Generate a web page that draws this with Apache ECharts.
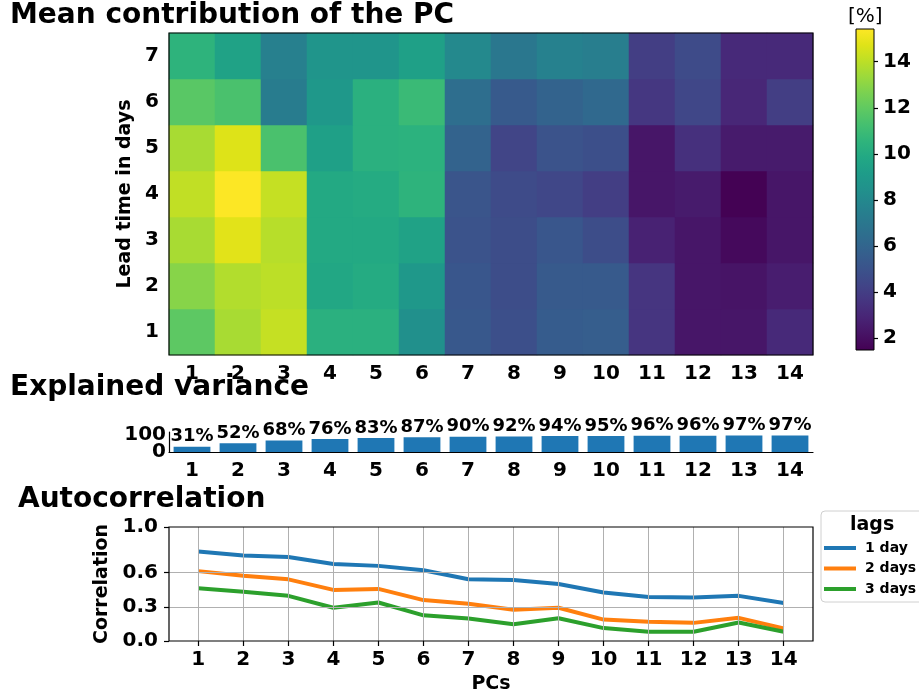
<!DOCTYPE html>
<html><head><meta charset="utf-8">
<script src="https://cdn.jsdelivr.net/npm/echarts@6/dist/echarts.min.js"></script>
<style>html,body{margin:0;padding:0;background:#fff}#c{width:919px;height:695px}</style>
</head><body><div id="c"></div>
<script>
// ---- data ----
const pcs = ['1','2','3','4','5','6','7','8','9','10','11','12','13','14'];
const pcNums = [1,2,3,4,5,6,7,8,9,10,11,12,13,14];
const leadDays = ['1','2','3','4','5','6','7'];
// mean contribution [%] per PC, one array per lead time (days)
const lead1 = [11.9,13.6,14.2,10.3,10.3,8.4,5.3,4.8,5.5,5.6,3.6,2.3,2.3,3.1];
const lead2 = [12.9,13.8,14.0,9.8,10.0,8.9,5.2,4.7,5.4,5.4,3.6,2.3,2.2,2.6];
const lead3 = [13.6,14.8,13.9,9.9,9.9,9.5,5.0,4.7,5.2,4.7,2.8,2.3,1.8,2.3];
const lead4 = [14.1,15.4,14.2,9.9,10.0,10.5,5.1,4.6,4.4,4.0,2.3,2.5,1.5,2.3];
const lead5 = [13.6,14.7,11.4,9.4,10.3,10.4,5.9,4.3,5.0,4.8,2.3,3.4,2.5,2.5];
const lead6 = [11.8,11.4,7.3,8.9,10.3,10.9,6.5,5.4,5.9,6.2,3.7,4.4,3.0,4.0];
const lead7 = [10.5,9.5,7.5,8.7,8.7,9.4,8.0,7.0,7.6,7.4,4.0,4.6,3.1,3.1];
const explainedVar = [31,52,68,76,83,87,90,92,94,95,96,96,97,97];
const lag1 = [0.786,0.751,0.737,0.676,0.659,0.621,0.541,0.535,0.500,0.425,0.385,0.381,0.396,0.333];
const lag2 = [0.613,0.572,0.541,0.448,0.457,0.359,0.327,0.275,0.292,0.188,0.168,0.159,0.203,0.110];
const lag3 = [0.463,0.433,0.396,0.292,0.338,0.225,0.197,0.147,0.200,0.113,0.081,0.081,0.162,0.081];
const corrTicks = [0, 0.3, 0.6, 1.0];
const varTicks = [0, 100];
const cbTicks = [2,4,6,8,10,12,14];
const cbMin = 1.48, cbMax = 15.42;

const viridis = ['#440154','#471365','#482475','#463480','#414487','#3b528b','#355f8d','#2f6c8e','#2a788e','#25848e','#21918c','#1e9c89','#22a884','#2fb47c','#44bf70','#5ec962','#7ad151','#9bd93c','#bddf26','#dfe318','#fde725'];

const leads = [lead1,lead2,lead3,lead4,lead5,lead6,lead7];
const heatData = [];
leads.forEach((row, r) => row.forEach((v, c) => heatData.push([c, r, v])));

const F = 'DejaVu Sans';
const tickFont = {fontFamily:F, fontWeight:'bold', fontSize:20, color:'#000'};
const barLabelFont = {fontFamily:F, fontWeight:'bold', fontSize:18, color:'#000'};
const titleFont = (s) => ({fontFamily:F, fontWeight:'bold', fontSize:s, color:'#000'});
const blackTick = {lineStyle:{color:'#000', width:1.2}};
const VAR_MAX = 118;

// one y axis per explained-variance tick label so neither gets hidden by overlap logic
const varAxes = varTicks.map((t, k) => ({
  gridIndex:1, type:'value', min:0, max:VAR_MAX, position:'left', offset:0,
  axisLine:{show:k===0, lineStyle:{color:'#000', width:1.2}}, axisTick:{show:false},
  axisLabel:{...tickFont, margin:3, customValues:[t], showMinLabel:true, showMaxLabel:true},
  splitLine:{show:false}
}));

const chart = echarts.init(document.getElementById('c'), null, {renderer:'canvas'});
chart.setOption({
  animation:false,
  backgroundColor:'#fff',
  title:[
    {text:'Mean contribution of the PC', left:10, top:2, padding:0, textStyle:titleFont(28)},
    {text:'Explained variance', left:10, top:374, padding:0, textStyle:titleFont(28)},
    {text:'Autocorrelation', left:18, top:486, padding:0, textStyle:titleFont(28)},
    {text:'lags', left:850, top:516, padding:0, textStyle:titleFont(19), z:20},
    {text:'[%]', left:848, top:7, padding:0, textStyle:{fontFamily:F, fontWeight:'normal', fontSize:20, color:'#000'}}
  ],
  legend:{
    data:['1 day','2 days','3 days'], orient:'vertical', left:821, top:511,
    icon:'rect', itemWidth:32, itemHeight:4, itemGap:6.5, padding:[30,10,6,3],
    borderColor:'#d0d0d0', borderWidth:1, borderRadius:4, backgroundColor:'#fff',
    textStyle:{fontFamily:F, fontWeight:'bold', fontSize:14, color:'#000', padding:[0,0,0,4]}
  },
  visualMap:{show:false, type:'continuous', min:cbMin, max:cbMax, seriesIndex:0, dimension:2, inRange:{color:viridis}},
  grid:[
    {left:169, top:33, width:644, height:322, show:true, borderColor:'#000', borderWidth:1.2, backgroundColor:'transparent', z:10},
    {left:169, top:432, width:644, height:20},
    {left:169, top:527, width:644, height:116, show:true, borderColor:'#000', borderWidth:1.2, backgroundColor:'transparent', z:10},
    {left:856, top:29, width:18, height:321, show:true, borderColor:'#000', borderWidth:1, backgroundColor:'transparent', z:10}
  ],
  xAxis:[
    {gridIndex:0, type:'category', data:pcs, axisLine:{show:false}, axisTick:{alignWithLabel:true, length:5, ...blackTick}, axisLabel:{...tickFont, margin:9}, splitLine:{show:false}},
    {gridIndex:1, type:'category', data:pcs, axisLine:{show:true, lineStyle:{color:'#000', width:1.2}}, axisTick:{alignWithLabel:true, length:5, ...blackTick}, axisLabel:{...tickFont, margin:9}, splitLine:{show:false}},
    {gridIndex:2, type:'value', min:0.35, max:14.65, axisLine:{show:false}, axisTick:{show:true, customValues:pcNums, length:5, ...blackTick}, axisLabel:{...tickFont, margin:9, customValues:pcNums}, splitLine:{show:false},
      name:'PCs', nameLocation:'middle', nameGap:34, nameTextStyle:titleFont(19)},
    {gridIndex:3, type:'category', data:['cb'], show:false}
  ],
  yAxis:[
    {gridIndex:0, type:'category', data:leadDays, axisLine:{show:false}, axisTick:{alignWithLabel:true, length:5, ...blackTick}, axisLabel:{...tickFont, margin:10}, splitLine:{show:false},
      name:'Lead time in days', nameLocation:'middle', nameGap:29, nameTextStyle:titleFont(19)},
    varAxes[0],
    {gridIndex:2, type:'value', min:0, max:1, axisLine:{show:false}, axisTick:{show:true, customValues:corrTicks, length:5, ...blackTick}, axisLabel:{...tickFont, margin:11, customValues:corrTicks, showMinLabel:true, showMaxLabel:true, formatter:(v)=>Number(v).toFixed(1)}, splitLine:{show:false},
      name:'Correlation', nameLocation:'middle', nameGap:50, nameTextStyle:titleFont(19)},
    {gridIndex:3, type:'value', min:cbMin, max:cbMax, position:'right', axisLine:{show:false}, axisTick:{show:true, customValues:cbTicks, length:4, ...blackTick}, axisLabel:{...tickFont, margin:9, customValues:cbTicks}, splitLine:{show:false}},
    varAxes[1]
  ],
  series:[
    {type:'heatmap', xAxisIndex:0, yAxisIndex:0, data:heatData, itemStyle:{borderWidth:0}, emphasis:{disabled:true}},
    {type:'bar', xAxisIndex:1, yAxisIndex:1, data:explainedVar, barWidth:'80%', itemStyle:{color:'#1f77b4'},
      label:{show:true, position:'top', distance:1, formatter:'{c}%', ...barLabelFont}},
    {type:'line', xAxisIndex:2, yAxisIndex:2, data:[], z:1, silent:true,
      markLine:{silent:true, symbol:['none','none'], label:{show:false}, animation:false,
        lineStyle:{color:'#b0b0b0', width:1, type:'solid'},
        data:[...pcNums.map(v=>({xAxis:v})), ...corrTicks.filter(v=>v>0 && v<1).map(v=>({yAxis:v}))]}},
    {type:'line', name:'1 day', xAxisIndex:2, yAxisIndex:2, data:lag1.map((v,i)=>[pcNums[i],v]), showSymbol:false, z:3, lineStyle:{width:4, color:'#1f77b4'}, itemStyle:{color:'#1f77b4'}},
    {type:'line', name:'2 days', xAxisIndex:2, yAxisIndex:2, data:lag2.map((v,i)=>[pcNums[i],v]), showSymbol:false, z:3, lineStyle:{width:4, color:'#ff7f0e'}, itemStyle:{color:'#ff7f0e'}},
    {type:'line', name:'3 days', xAxisIndex:2, yAxisIndex:2, data:lag3.map((v,i)=>[pcNums[i],v]), showSymbol:false, z:3, lineStyle:{width:4, color:'#2ca02c'}, itemStyle:{color:'#2ca02c'}},
    {type:'bar', xAxisIndex:3, yAxisIndex:3, stack:'cb', data:[cbMin], barWidth:'100%', silent:true, itemStyle:{color:'rgba(0,0,0,0)'}},
    {type:'bar', xAxisIndex:3, yAxisIndex:3, stack:'cb', data:[cbMax-cbMin], barWidth:'100%', silent:true,
      itemStyle:{color:{type:'linear', x:0, y:0, x2:0, y2:1, colorStops:viridis.slice().reverse().map((c,i,a)=>({offset:i/(a.length-1), color:c}))}}}
  ]
});
</script>
</body></html>
